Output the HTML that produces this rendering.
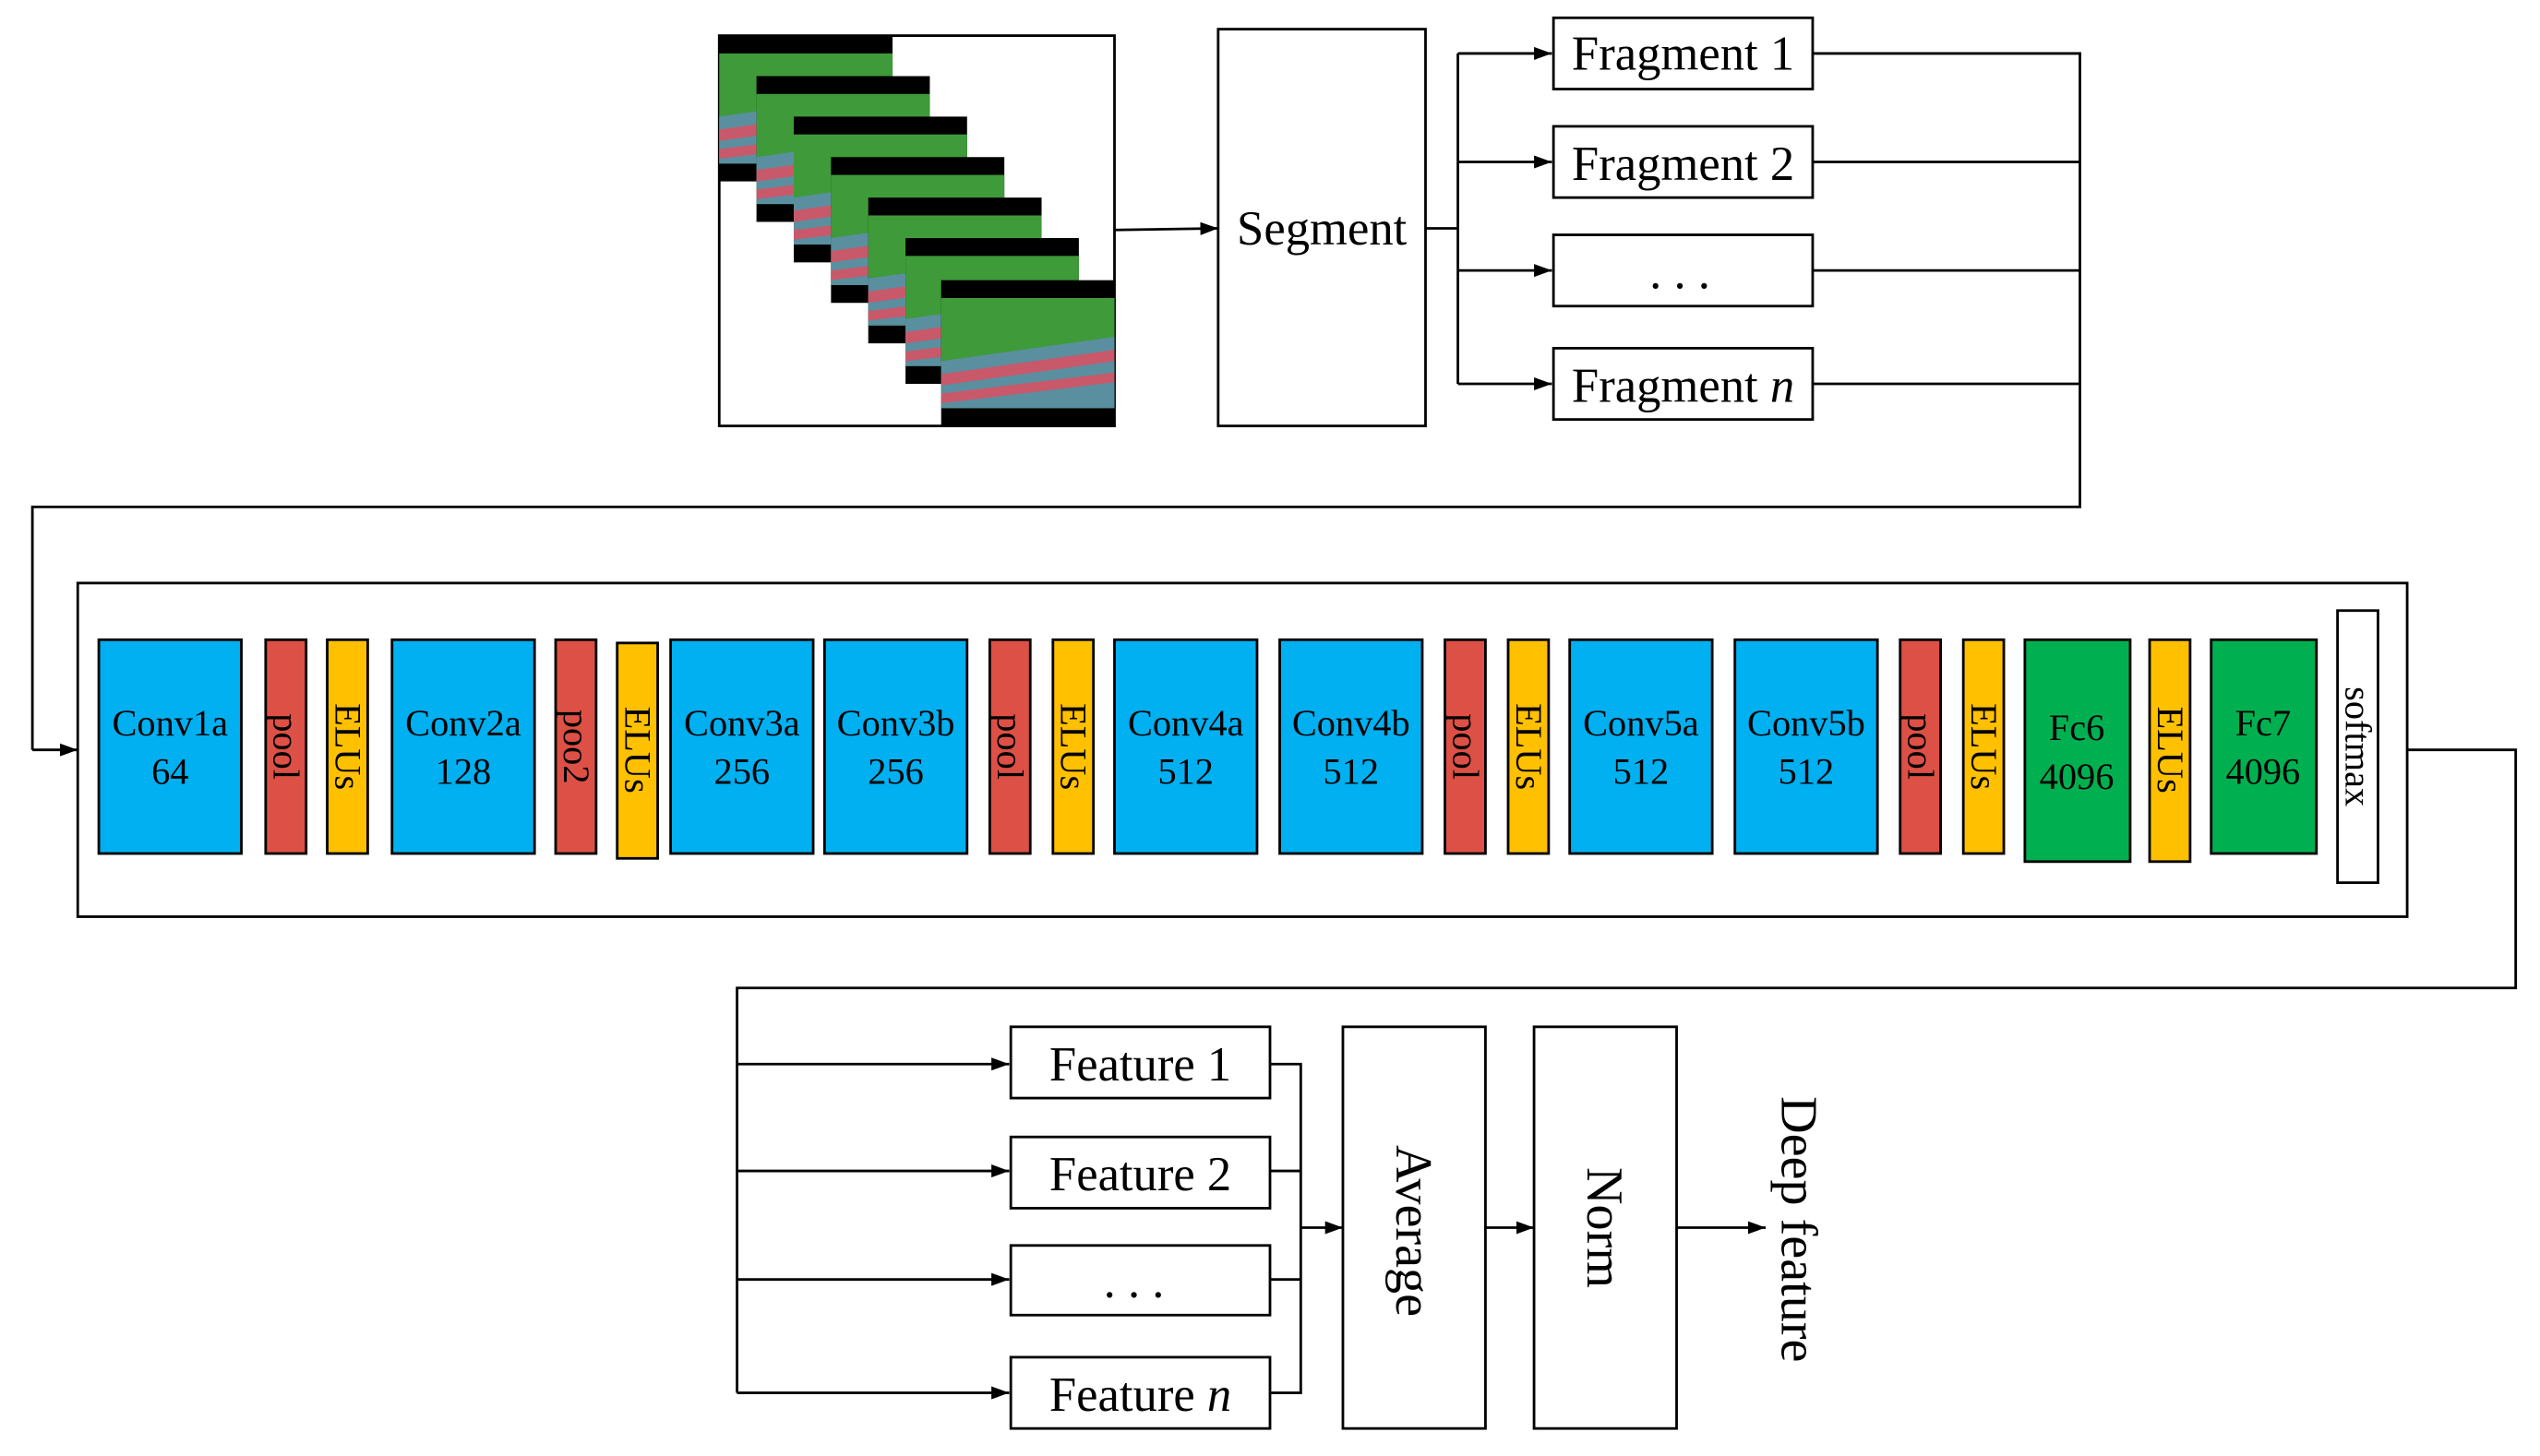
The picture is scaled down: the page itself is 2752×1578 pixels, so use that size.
<!DOCTYPE html>
<html><head><meta charset="utf-8"><style>html,body{margin:0;padding:0;background:#fff}svg{display:block}</style></head>
<body>
<svg width="2752" height="1578" viewBox="0 0 1568 899" preserveAspectRatio="none" xmlns="http://www.w3.org/2000/svg" font-family="'Liberation Serif', serif">
<defs>
<marker id="a" markerWidth="11" markerHeight="8" refX="11" refY="4" orient="auto" markerUnits="userSpaceOnUse"><path d="M0,0 L11,4 L0,8 z" fill="#000"/></marker>
<g id="fr">
<rect x="0" y="0" width="107" height="90" fill="#000"/>
<rect x="0" y="11" width="107" height="68" fill="#3f9a3a"/>
<polygon points="0,50 107,35 107,79 0,79" fill="#5a8fa0"/>
<polygon points="0,58 107,43 107,50 0,65" fill="#c8596a"/>
<polygon points="0,70 107,57 107,63 0,76" fill="#c8596a"/>
</g>
</defs>
<g stroke="#000" stroke-width="1.6" fill="none">
<rect x="444" y="22" width="244" height="241" fill="#fff"/>
</g>
<use href="#fr" x="444" y="22"/>
<use href="#fr" x="467" y="47"/>
<use href="#fr" x="490" y="72"/>
<use href="#fr" x="513" y="97"/>
<use href="#fr" x="536" y="122"/>
<use href="#fr" x="559" y="147"/>
<use href="#fr" x="581" y="173"/>
<g stroke="#000" stroke-width="1.6" fill="none">
<line x1="688" y1="142" x2="752" y2="141" marker-end="url(#a)"/>
<rect x="752" y="18" width="128" height="245"/>
<polyline points="880,141 900,141"/>
<line x1="900" y1="33" x2="900" y2="237"/>
<line x1="900" y1="33" x2="958" y2="33" marker-end="url(#a)"/>
<line x1="900" y1="100" x2="958" y2="100" marker-end="url(#a)"/>
<line x1="900" y1="167" x2="958" y2="167" marker-end="url(#a)"/>
<line x1="900" y1="237" x2="958" y2="237" marker-end="url(#a)"/>
<rect x="959" y="11" width="160" height="44"/>
<rect x="959" y="78" width="160" height="44"/>
<rect x="959" y="145" width="160" height="44"/>
<rect x="959" y="215" width="160" height="44"/>
<polyline points="1119,33 1284,33 1284,313 20,313 20,463"/>
<line x1="1119" y1="100" x2="1284" y2="100"/>
<line x1="1119" y1="167" x2="1284" y2="167"/>
<line x1="1119" y1="237" x2="1284" y2="237"/>
<line x1="20" y1="463" x2="48" y2="463" marker-end="url(#a)"/>
<rect x="48" y="360" width="1438" height="206"/>
<polyline points="1486,463 1553,463 1553,610 455,610 455,860"/>
<line x1="455" y1="657" x2="623" y2="657" marker-end="url(#a)"/>
<line x1="455" y1="723" x2="623" y2="723" marker-end="url(#a)"/>
<line x1="455" y1="790" x2="623" y2="790" marker-end="url(#a)"/>
<line x1="455" y1="860" x2="623" y2="860" marker-end="url(#a)"/>
<rect x="624" y="634" width="160" height="44"/>
<rect x="624" y="702" width="160" height="44"/>
<rect x="624" y="769" width="160" height="43"/>
<rect x="624" y="838" width="160" height="44"/>
<polyline points="784,657 803,657 803,860 784,860"/>
<line x1="784" y1="723" x2="803" y2="723"/>
<line x1="784" y1="790" x2="803" y2="790"/>
<line x1="803" y1="758" x2="829" y2="758" marker-end="url(#a)"/>
<rect x="829" y="634" width="88" height="248"/>
<line x1="917" y1="758" x2="947" y2="758" marker-end="url(#a)"/>
<rect x="947" y="634" width="88" height="248"/>
<line x1="1035" y1="758" x2="1090" y2="758" marker-end="url(#a)"/>
</g>
<g stroke="#000" stroke-width="1.6">
<rect x="61" y="395" width="88" height="132" fill="#00b0f0"/>
<rect x="164" y="395" width="25" height="132" fill="#dd5045"/>
<rect x="202" y="395" width="25" height="132" fill="#ffc000"/>
<rect x="242" y="395" width="88" height="132" fill="#00b0f0"/>
<rect x="343" y="395" width="25" height="132" fill="#dd5045"/>
<rect x="381" y="397" width="25" height="133" fill="#ffc000"/>
<rect x="414" y="395" width="88" height="132" fill="#00b0f0"/>
<rect x="509" y="395" width="88" height="132" fill="#00b0f0"/>
<rect x="611" y="395" width="25" height="132" fill="#dd5045"/>
<rect x="650" y="395" width="25" height="132" fill="#ffc000"/>
<rect x="688" y="395" width="88" height="132" fill="#00b0f0"/>
<rect x="790" y="395" width="88" height="132" fill="#00b0f0"/>
<rect x="892" y="395" width="25" height="132" fill="#dd5045"/>
<rect x="931" y="395" width="25" height="132" fill="#ffc000"/>
<rect x="969" y="395" width="88" height="132" fill="#00b0f0"/>
<rect x="1071" y="395" width="88" height="132" fill="#00b0f0"/>
<rect x="1173" y="395" width="25" height="132" fill="#dd5045"/>
<rect x="1212" y="395" width="25" height="132" fill="#ffc000"/>
<rect x="1250" y="395" width="65" height="137" fill="#00b050"/>
<rect x="1327" y="395" width="25" height="137" fill="#ffc000"/>
<rect x="1365" y="395" width="65" height="132" fill="#00b050"/>
<rect x="1443" y="377" width="25" height="168" fill="#fff"/>
</g>
<g font-size="30" fill="#000" text-anchor="middle">
<text x="816" y="151">Segment</text>
<text x="1039" y="43">Fragment 1</text>
<text x="1039" y="111">Fragment 2</text>
<text x="1037" y="178">. . .</text>
<text x="1039" y="248">Fragment <tspan font-style="italic">n</tspan></text>
<text x="704" y="667">Feature 1</text>
<text x="704" y="735">Feature 2</text>
<text x="700" y="801">. . .</text>
<text x="704" y="871">Feature <tspan font-style="italic">n</tspan></text>
</g>
<g font-size="32" fill="#000" text-anchor="middle">
<text transform="translate(862,760) rotate(90)">Average</text>
<text transform="translate(980,758) rotate(90)">Norm</text>
<text transform="translate(1100,759) rotate(90)">Deep feature</text>
</g>
<g font-size="23" fill="#000" text-anchor="middle">
<text x="105" y="454">Conv1a</text><text x="105" y="484">64</text>
<text x="286" y="454">Conv2a</text><text x="286" y="484">128</text>
<text x="458" y="454">Conv3a</text><text x="458" y="484">256</text>
<text x="553" y="454">Conv3b</text><text x="553" y="484">256</text>
<text x="732" y="454">Conv4a</text><text x="732" y="484">512</text>
<text x="834" y="454">Conv4b</text><text x="834" y="484">512</text>
<text x="1013" y="454">Conv5a</text><text x="1013" y="484">512</text>
<text x="1115" y="454">Conv5b</text><text x="1115" y="484">512</text>
<text x="1282" y="457">Fc6</text><text x="1282" y="487">4096</text>
<text x="1397" y="454">Fc7</text><text x="1397" y="484">4096</text>
<text transform="translate(169,461) rotate(90)">pool</text>
<text transform="translate(207,461) rotate(90)">ELUs</text>
<text transform="translate(348,461) rotate(90)">poo2</text>
<text transform="translate(386,463) rotate(90)">ELUs</text>
<text transform="translate(616,461) rotate(90)">pool</text>
<text transform="translate(655,461) rotate(90)">ELUs</text>
<text transform="translate(897,461) rotate(90)">pool</text>
<text transform="translate(936,461) rotate(90)">ELUs</text>
<text transform="translate(1178,461) rotate(90)">pool</text>
<text transform="translate(1217,461) rotate(90)">ELUs</text>
<text transform="translate(1332,463) rotate(90)">ELUs</text>
<text transform="translate(1448,461) rotate(90)">softmax</text>
</g>
</svg>
</body></html>
